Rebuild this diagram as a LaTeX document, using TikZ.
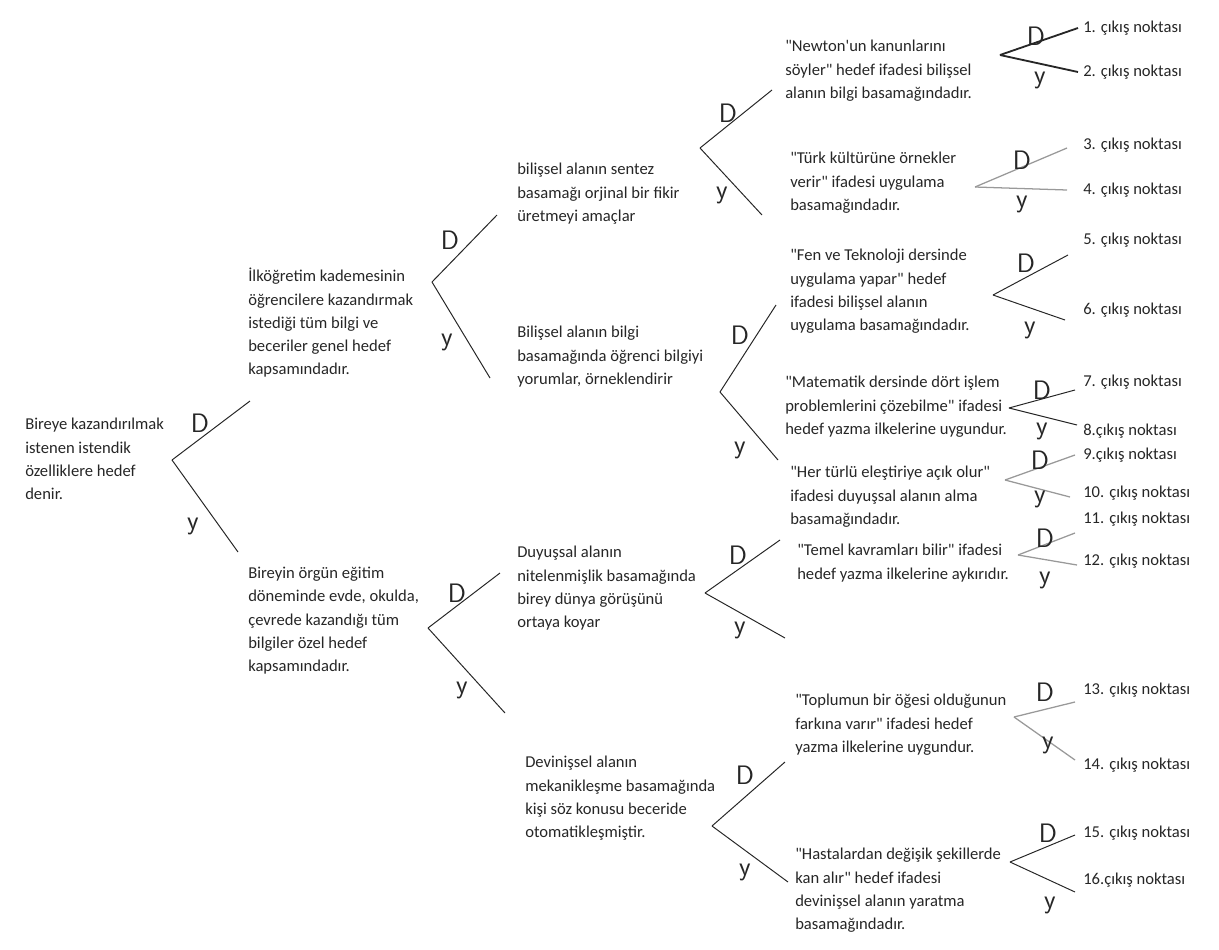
\documentclass[tikz,border=0pt]{standalone}
\usepackage{fontspec}
\usepackage{xcolor}
\usepackage{tikz}
\usetikzlibrary{positioning}
\usetikzlibrary{calc}
\newfontfamily\stmtfont{Carlito}
\tikzstyle{stmt}=[anchor=north west,align=left,inner sep=0pt,text=black!85,font=\stmtfont\fontsize{11.8}{16.5}\selectfont]
\tikzstyle{exitpt}=[anchor=west,inner sep=0pt,text=black!85,font=\stmtfont\fontsize{11.8}{16.5}\selectfont]
\tikzstyle{handmark}=[inner sep=0pt,text=black!85,font=\sffamily\fontsize{19}{19}\selectfont]
\tikzstyle{branch} = [draw,line width=0.7pt,black!85]
\tikzstyle{greybranch} = [draw,line width=0.9pt,black!40]

\begin{document}
\begin{tikzpicture}[x=0.025cm,y=-0.025cm]

 \useasboundingbox (0,0) rectangle (1219,949);

 %statements
 \foreach \x/\y/\name/\label in {25/418/root/{Bireye kazandırılmak\\istenen istendik\\özelliklere hedef\\denir.},
   248/268/genel/{İlköğretim kademesinin\\öğrencilere kazandırmak\\istediği tüm bilgi ve\\beceriler genel hedef\\kapsamındadır.},
   248/567/ozel/{Bireyin örgün eğitim\\döneminde evde, okulda,\\çevrede kazandığı tüm\\bilgiler özel hedef\\kapsamındadır.}}
        \node[stmt] (\name) at (\x,\y) {\label};

 \foreach \x/\y/\name/\label in {517/163/sentez/{bilişsel alanın sentez\\basamağı orjinal bir fikir\\üretmeyi amaçlar},
   517/326/bilgi/{Bilişsel alanın bilgi\\basamağında öğrenci bilgiyi\\yorumlar, örneklendirir},
   517/546/duyus/{Duyuşsal alanın\\nitelenmişlik basamağında\\birey dünya görüşünü\\ortaya koyar},
   525/756/devin/{Devinişsel alanın\\mekanikleşme basamağında\\kişi söz konusu beceride\\otomatikleşmiştir.}}
        \node[stmt] (\name) at (\x,\y) {\label};

 \foreach \x/\y/\name/\label in {785/40/newton/{"Newton'un kanunlarını\\söyler" hedef ifadesi bilişsel\\alanın bilgi basamağındadır.},
   790/152/turk/{"Türk kültürüne örnekler\\verir" ifadesi uygulama\\basamağındadır.},
   790/249/fen/{"Fen ve Teknoloji dersinde\\uygulama yapar" hedef\\ifadesi bilişsel alanın\\uygulama basamağındadır.},
   785/376/mat/{"Matematik dersinde dört işlem\\problemlerini çözebilme" ifadesi\\hedef yazma ilkelerine uygundur.},
   790/466/elestiri/{"Her türlü eleştiriye açık olur"\\ifadesi duyuşsal alanın alma\\basamağındadır.},
   797/544/temel/{"Temel kavramları bilir" ifadesi\\hedef yazma ilkelerine aykırıdır.},
   795/694/toplum/{"Toplumun bir öğesi olduğunun\\farkına varır" ifadesi hedef\\yazma ilkelerine uygundur.},
   795/848/hasta/{"Hastalardan değişik şekillerde\\kan alır" hedef ifadesi\\devinişsel alanın yaratma\\basamağındadır.}}
        \node[stmt] (\name) at (\x,\y) {\label};

 %exits
 \foreach \y/\name/\label in {28/c1/1. çıkış noktası, 72/c2/2. çıkış noktası, 145/c3/3. çıkış noktası, 190/c4/4. çıkış noktası,
   240/c5/5. çıkış noktası, 310/c6/6. çıkış noktası, 382/c7/7. çıkış noktası, 431/c8/8.çıkış noktası,
   455/c9/9.çıkış noktası, 493/c10/10. çıkış noktası, 519/c11/11. çıkış noktası, 561/c12/12. çıkış noktası,
   690/c13/13. çıkış noktası, 765/c14/14. çıkış noktası, 833/c15/15. çıkış noktası, 880/c16/16.çıkış noktası}
        \node[exitpt] (\name) at (1083,\y) {\label};

 %forks: vertex, D end, Y end
 \foreach \name/\vx/\vy/\dx/\dy/\yx/\yy in {f0/172/460/250/401/238/552,
   f1/432/282/497/215/490/378, f2/428/628/500/573/505/713,
   f3/700/148/772/90/762/215, f4/720/392/776/305/778/460,
   f5/705/593/780/540/785/638, f6/712/826/785/762/788/882,
   g1/1000/55/1078/28/1078/72, g2/975/187/1067/148/1067/190,
   g3/993/295/1068/255/1065/320, g4/1009/408/1075/390/1077/425,
   g5/1005/480/1075/455/1070/497, g6/1018/555/1075/533/1077/565,
   g7/1014/717/1075/702/1075/760, g8/1010/862/1075/835/1075/892}
 {
   \coordinate (\name) at (\vx,\vy);
   \coordinate (\name d) at (\dx,\dy);
   \coordinate (\name y) at (\yx,\yy);
 }

 \foreach \source/\dest in {f0/f0d, f0/f0y, f1/f1d, f1/f1y, f2/f2d, f2/f2y,
   f3/f3d, f3/f3y, f4/f4d, f4/f4y, f5/f5d, f5/f5y, f6/f6d, f6/f6y,
   g3/g3d, g3/g3y, g4/g4d, g4/g4y, g8/g8d, g8/g8y}
        \path[branch] (\source) -- (\dest);

 \path[branch, line width=1.3pt] (g1) -- (g1d);
 \path[branch, line width=1.3pt] (g1) -- (g1y);

 \foreach \source/\dest in {g2/g2d, g2/g2y, g5/g5d, g5/g5y, g6/g6d, g6/g6y, g7/g7d, g7/g7y}
        \path[greybranch] (\source) -- (\dest);

 %D and y marks
 \foreach \x/\y/\name/\label in {200/423/m0d/D, 193/526/m0y/y, 450/240/m1d/D, 447/342/m1y/y,
   457/593/m2d/D, 462/690/m2y/y, 728/113/m3d/D, 722/195/m3y/y, 740/335/m4d/D, 740/450/m4y/y,
   738/555/m5d/D, 740/630/m5y/y, 745/775/m6d/D, 745/872/m6y/y,
   1036/36/n1d/D, 1040/80/n1y/y, 1022/160/n2d/D, 1022/204/n2y/y, 1026/263/n3d/D, 1030/330/n3y/y,
   1042/390/n4d/D, 1042/431/n4y/y, 1040/460/n5d/D, 1040/499/n5y/y, 1045/538/n6d/D, 1045/580/n6y/y,
   1045/692/n7d/D, 1048/745/n7y/y, 1048/833/n8d/D, 1050/905/n8y/y}
        \node[handmark] (\name) at (\x,\y) {\label};

\end{tikzpicture}
\end{document}
